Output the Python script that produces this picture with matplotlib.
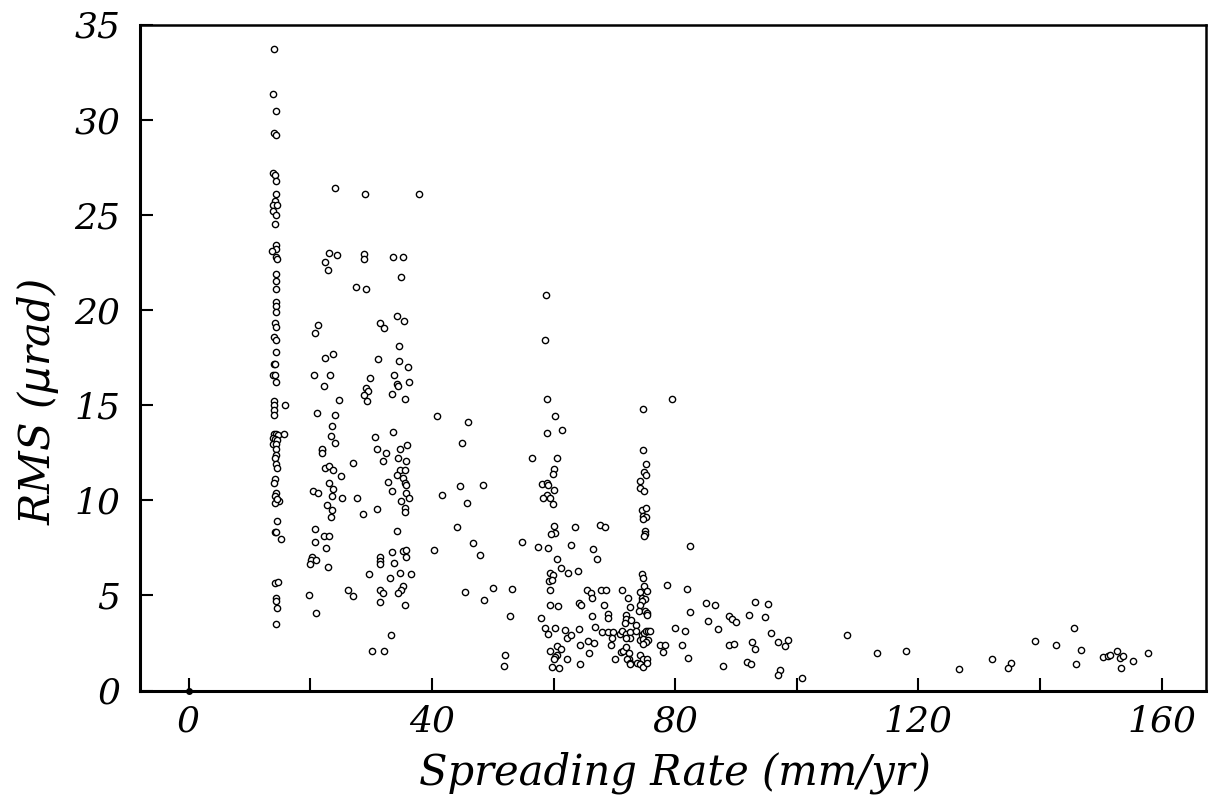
import matplotlib
matplotlib.use("Agg")
import matplotlib.pyplot as plt
import numpy as np

# ---- data (spreading rate mm/yr, RMS microrad) ----
# slow ridge cluster near 14 mm/yr
x_slow = [14.1,13.9,14.3,14.0,14.4,13.8,14.2,14.4,14.4,14.2,13.9,14.5,13.8,14.4,14.2,14.4,14.3,13.7,14.4,14.5,
          14.3,14.4,14.4,14.4,14.3,14.4,14.2,14.4,14.1,14.4,14.3,14.0,14.2,13.9,14.2,14.3,14.0,15.8,14.0,14.0,14.0,
          14.0,14.4,14.7,13.8,14.2,14.5,13.8,14.4,15.6,14.4,14.4,14.2,14.4,14.5,14.2,14.1,14.4,14.2,14.9,14.2,14.6,
          14.6,14.2,14.4,15.2,14.2,14.7,14.3,14.4,14.6,14.3]
y_slow = [33.7,31.35,30.45,29.3,29.2,27.2,27.1,26.8,26.1,25.75,25.5,25.5,25.2,25.0,24.5,23.4,23.2,23.1,22.8,22.7,
          21.9,21.5,21.1,20.4,20.2,19.9,19.3,19.1,18.6,18.4,17.8,17.15,17.15,16.6,16.6,16.2,15.2,15.0,15.0,14.75,14.5,
          13.5,13.5,13.45,13.25,13.2,13.15,12.95,12.95,13.5,12.7,12.4,12.2,11.9,11.7,11.1,10.9,10.4,10.2,9.95,9.85,10.05,
          8.9,8.35,8.35,7.98,5.67,5.7,4.88,4.7,4.35,3.47]

# 20-40 mm/yr group
x_mid = [24.1,29.0,37.8,23.1,24.4,22.5,22.9,28.8,28.8,33.6,35.3,35.0,27.5,29.1,21.3,20.8,31.4,32.2,34.2,35.4,
         34.6,22.4,23.8,31.2,34.6,36.0,20.6,23.2,29.9,33.8,22.3,34.2,34.4,36.2,29.2,29.5,28.8,33.5,24.7,29.3,
         35.6,21.1,24.1,23.5,
         23.4,24.1,22.0,22.0,22.0,22.4,23.1,23.7,25.1,27.0,23.1,23.8,20.4,21.2,23.6,25.2,27.7,22.7,23.5,23.4,
         28.7,20.7,22.3,23.0,20.8,22.6,20.3,20.1,20.0,21.0,22.9,19.8,20.9,26.2,27.1,
         30.6,30.9,33.6,32.5,32.0,34.8,35.9,34.5,35.7,34.7,35.5,34.3,35.3,32.8,33.4,35.5,35.8,35.7,36.3,34.9,
         35.5,35.6,31.0,34.3,35.2,35.8,33.5,35.8,31.4,31.4,31.4,33.8,29.6,33.1,34.8,36.6,31.5,31.9,31.4,35.3,
         35.0,34.4,35.6,33.2,30.2,32.2]
y_mid = [26.4,26.1,26.1,23.0,22.9,22.5,22.1,22.95,22.7,22.8,22.8,21.75,21.2,21.1,19.2,18.8,19.3,19.05,19.7,19.4,
         18.1,17.45,17.7,17.4,17.3,17.0,16.6,16.6,16.4,16.6,16.0,16.1,16.0,16.2,15.9,15.75,15.55,15.6,15.26,15.2,
         15.3,14.6,14.5,13.9,
         13.4,13.0,12.65,12.7,12.5,11.7,11.8,11.6,11.25,11.95,10.9,10.6,10.5,10.4,10.2,10.1,10.1,9.75,9.5,9.1,
         9.3,8.5,8.1,8.1,7.8,7.5,7.0,6.85,6.65,6.85,6.5,5.0,4.07,5.3,4.96,
         13.3,12.7,13.6,12.5,12.05,12.7,12.9,12.2,12.07,11.6,11.6,11.35,11.15,10.95,10.5,10.9,10.8,10.4,10.1,9.95,
         9.6,9.4,9.55,8.4,7.35,7.4,7.3,7.0,7.0,6.8,6.65,6.7,6.1,5.9,6.15,6.1,5.3,5.1,4.65,5.5,
         5.3,5.15,4.5,2.9,2.05,2.05]

# 40-57 mm/yr scattered points
x_gap = [40.8,46.0,40.3,41.7,45.0,44.6,45.7,44.2,45.4,48.4,46.7,47.9,48.5,50.1,53.1,52.8,52.0,51.8,54.9,56.4,
         57.5,59.1,57.9]
y_gap = [14.45,14.1,7.4,10.3,13.0,10.75,9.85,8.6,5.2,10.8,7.75,7.1,4.75,5.4,5.35,3.9,1.85,1.3,7.8,12.2,
         7.55,7.5,3.8]

# 58-70 mm/yr group
x_sixty = [58.8,58.6,58.9,60.2,58.9,61.4,60.5,60.1,59.9,58.1,59.0,59.1,60.0,58.9,58.3,59.5,59.9,60.0,60.2,59.6,
           63.5,67.6,68.4,62.8,66.5,67.1,60.5,61.2,62.4,64.0,59.5,59.9,59.2,59.7,59.4,65.5,66.2,66.3,67.8,68.6,
           64.2,64.6,59.4,60.8,68.3,66.4,69.0,68.9,58.6,59.1,60.2,61.9,62.2,62.8,64.2,66.9,67.9,68.9,69.8,69.6,
           69.5,65.7,66.6,64.4,60.6,61.2,59.4,60.5,60.2,60.1,62.2,65.8,64.3,70.1,59.8,60.9]
y_sixty = [20.8,18.4,15.3,14.4,13.55,13.7,12.2,11.65,11.4,10.85,10.9,10.8,10.55,10.3,10.1,10.1,9.8,8.65,8.26,8.2,
           8.6,8.7,8.6,7.65,7.45,6.9,6.9,6.45,6.15,6.3,6.2,6.05,5.75,5.8,5.3,5.3,5.1,4.87,5.3,5.3,
           4.6,4.5,4.47,4.45,4.47,3.9,4.0,3.8,3.3,2.95,3.3,3.2,2.77,2.9,3.25,3.35,3.08,3.1,3.1,2.75,
           2.4,2.6,2.47,2.4,2.33,2.2,2.1,1.87,1.75,1.63,1.67,1.98,1.4,1.63,1.25,1.17]

# 70-83 mm/yr group
x_seventy = [74.7,79.5,74.7,75.2,74.9,75.2,74.3,74.3,74.9,74.6,75.2,74.7,75.2,74.7,75.1,75.0,74.9,82.5,74.6,74.7,
             74.9,75.3,74.2,74.5,75.1,74.5,74.2,74.0,75.1,75.3,75.3,78.7,82.0,82.5,71.2,72.3,72.6,71.9,72.0,71.7,
             72.8,73.6,70.9,71.3,72.0,72.5,72.5,71.9,73.5,74.2,74.5,74.8,75.2,75.5,75.9,74.7,75.5,75.2,74.7,77.5,
             78.3,78.0,80.0,81.6,81.2,82.1,71.1,71.5,72.0,72.4,72.4,72.1,72.5,72.6,73.7,74.3,74.7,75.3,74.3,74.7,
             75.3]
y_seventy = [14.8,15.3,12.65,11.9,11.5,11.3,11.0,10.65,10.5,9.5,9.6,9.15,9.1,9.0,8.4,8.25,8.1,7.6,6.1,5.9,
             5.5,5.24,5.2,4.87,4.8,4.7,4.5,4.2,4.2,4.05,3.96,5.55,5.35,4.1,5.28,4.84,4.4,3.95,3.77,3.55,
             3.7,3.45,2.95,3.12,2.98,3.1,2.74,2.74,3.12,2.65,2.93,3.04,3.12,3.12,3.14,2.72,2.63,2.54,2.46,2.4,
             2.4,2.0,3.3,3.12,2.37,1.7,2.03,2.06,2.28,1.95,1.63,1.63,1.45,1.37,1.45,1.86,1.63,1.63,1.37,1.25,
             1.45]

# fast ridges (> 84 mm/yr)
x_fast = [85.0,86.5,93.2,95.2,85.4,87.0,88.8,89.3,90.0,92.2,94.8,95.7,88.9,89.6,92.7,93.1,96.9,98.5,98.1,87.8,
          91.8,92.4,97.3,96.9,100.8,108.3,113.2,117.9,126.6,132.1,135.2,134.8,139.1,142.6,145.6,146.8,145.9,150.3,151.2,151.5,
          152.6,153.2,153.7,153.3,155.3,157.7]
y_fast = [4.58,4.5,4.67,4.55,3.65,3.23,3.9,3.74,3.6,3.96,3.84,3.0,2.37,2.42,2.53,2.2,2.53,2.68,2.33,1.3,
          1.49,1.37,1.07,0.8,0.65,2.9,1.96,2.07,1.12,1.65,1.42,1.16,2.6,2.38,3.26,2.14,1.37,1.74,1.82,1.86,
          2.09,1.7,1.8,1.17,1.53,1.95]

# origin point
x_origin = [0.0]
y_origin = [0.0]

x_ticks_major = [0, 40, 80, 120, 160]
x_ticks_minor = [20, 60, 100, 140]
y_ticks = [0, 5, 10, 15, 20, 25, 30, 35]

# ---- figure ----
plt.rcParams['font.family'] = ['DejaVu Serif']
fig = plt.figure(figsize=(12.09, 8.07), dpi=100)
ax = fig.add_axes([140/1209, 1 - 690.5/807, (1206 - 140)/1209, (690.5 - 24.5)/807])

xs = np.concatenate([x_slow, x_mid, x_gap, x_sixty, x_seventy, x_fast])
ys = np.concatenate([y_slow, y_mid, y_gap, y_sixty, y_seventy, y_fast])
ax.plot(xs, ys, linestyle='none', marker='o', markersize=4.5,
        markerfacecolor='white', markeredgecolor='black', markeredgewidth=1.0)
ax.plot(x_origin, y_origin, linestyle='none', marker='o', markersize=4.0,
        markerfacecolor='black', markeredgecolor='black', clip_on=False, zorder=5)

ax.set_xlim(-8.0, 167.3)
ax.set_ylim(0, 35)

ax.set_xticks(x_ticks_major)
ax.set_xticks(x_ticks_minor, minor=True)
ax.set_yticks(y_ticks)
ax.set_xticklabels([str(v) for v in x_ticks_major], fontstyle='italic', fontsize=26)
ax.set_yticklabels([str(v) for v in y_ticks], fontstyle='italic', fontsize=26)
ax.tick_params(axis='both', which='both', direction='in', length=9.5, width=1.5,
               top=False, right=False, color='black')
ax.tick_params(axis='x', which='major', pad=10)
ax.tick_params(axis='y', which='major', pad=14)

for side in ['left', 'bottom']:
    ax.spines[side].set_linewidth(2.2)
for side in ['top', 'right']:
    ax.spines[side].set_linewidth(1.8)

ax.set_xlabel('Spreading Rate (mm/yr)', fontstyle='italic', fontsize=30)
ax.set_ylabel('RMS ($\\mu$rad)', fontstyle='italic', fontsize=30)
ax.xaxis.set_label_coords((675 - 140) / 1066, -(773 - 690.5) / 666)
ax.yaxis.set_label_coords(-(140 - 38) / 1066, (690.5 - 402) / 666)
ax.xaxis.label.set_va('center')
ax.yaxis.label.set_va('center')

fig.savefig('out.png', dpi=100, facecolor='white')
